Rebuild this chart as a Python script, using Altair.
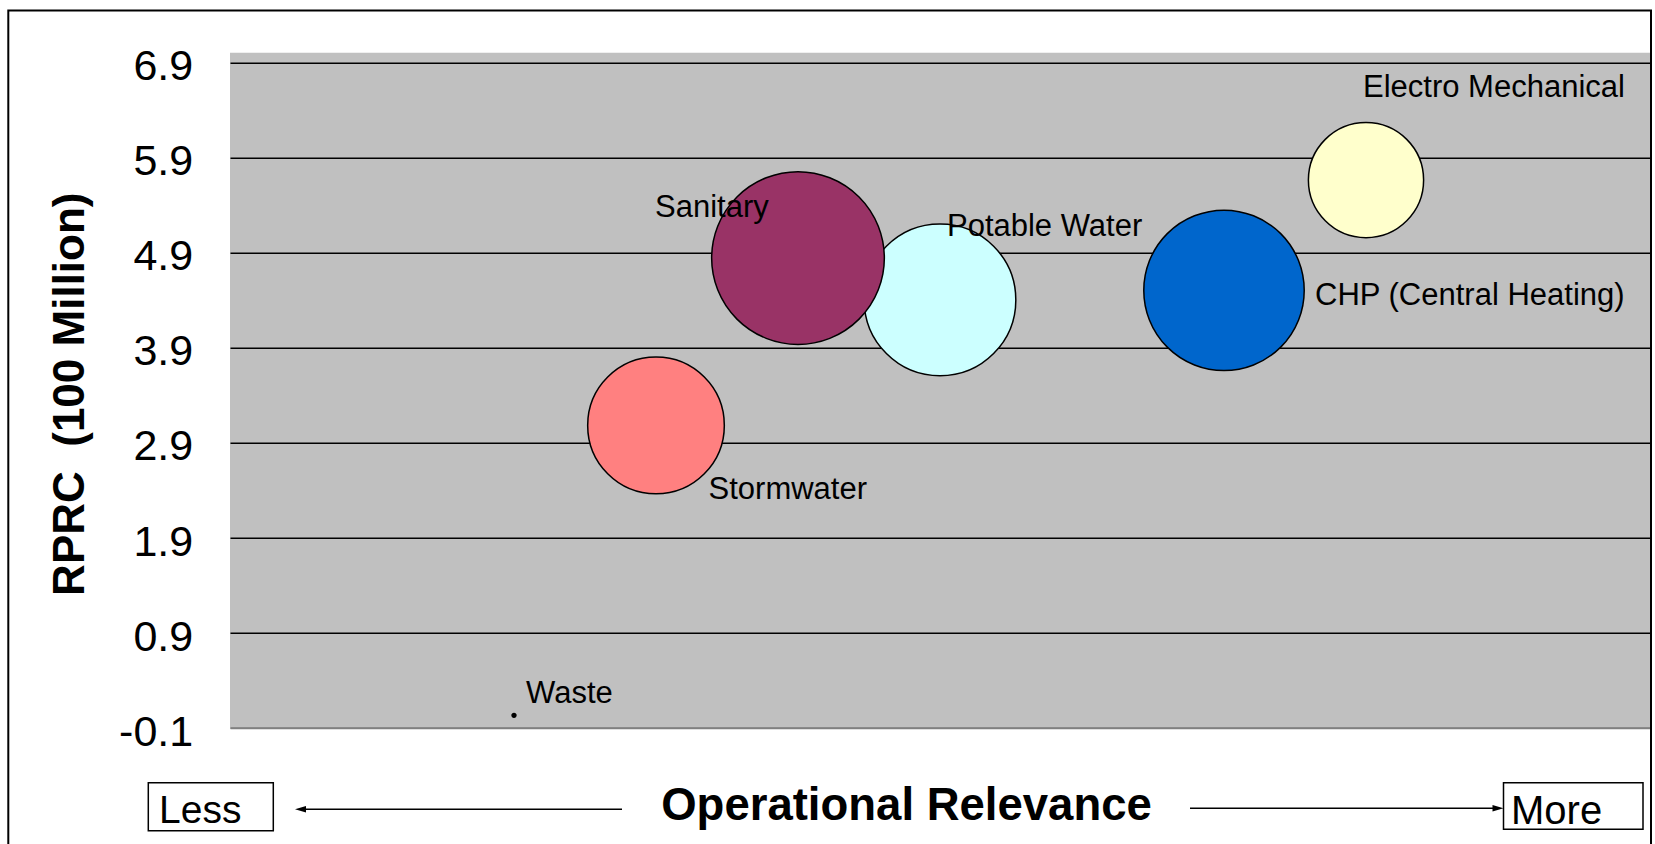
import altair as alt
import pandas as pd

# ---- data ----
categories = ["Waste", "Stormwater", "Potable Water", "Sanitary",
              "CHP (Central Heating)", "Electro Mechanical"]
relevance = [2.0, 3.0, 5.0, 4.0, 7.0, 8.0]          # operational relevance (unitless position)
rprc = [0.03, 3.08, 4.40, 4.84, 4.50, 5.66]           # RPRC (100 Million)
bubble_size = [0.05, 62.6, 77.1, 100.0, 86.3, 44.5]   # relative bubble size
bubble_colors = ["#000000", "#FF8080", "#CCFFFF", "#993366", "#0066CC", "#FFFFCC"]
label_x = [2.085, 3.37, 5.049, 2.993, 7.641, 7.979]
label_y = [0.157, 2.306, 5.072, 5.275, 4.346, 6.537]
y_ticks = [-0.1, 0.9, 1.9, 2.9, 3.9, 4.9, 5.9, 6.9]

df = pd.DataFrame({
    "category": categories,
    "relevance": relevance,
    "rprc": rprc,
    "size": bubble_size,
    "lx": label_x,
    "ly": label_y,
})

W, H = 1420, 675
FONT = "Liberation Sans"

xscale = alt.Scale(domain=[0, 10], nice=False, zero=False)
yscale = alt.Scale(domain=[-0.1, 7.0], nice=False, zero=False)

base = alt.Chart(df)

bubbles = base.mark_circle(opacity=1, stroke="black", strokeWidth=1.5).encode(
    x=alt.X("relevance:Q", scale=xscale,
            axis=alt.Axis(labels=False, ticks=False, grid=False,
                          domainColor="#808080", domainWidth=2,
                          title="Operational Relevance", titleFontSize=45.5,
                          titleFontWeight="bold", titleFont=FONT, titleColor="black",
                          titleX=676, titleY=92, titleAlign="center",
                          titleBaseline="alphabetic")),
    y=alt.Y("rprc:Q", scale=yscale,
            axis=alt.Axis(values=y_ticks,
                          labelExpr="datum.value < 0 ? '-' + format(-datum.value, '.1f') : format(datum.value, '.1f')",
                          labelFontSize=43, labelFont=FONT, labelColor="black",
                          labelPadding=37.3, labelBaseline="alphabetic", labelOffset=17.5,
                          labelAlign="right",
                          ticks=False, tickSize=0, domain=False,
                          grid=True,
                          gridColor=alt.condition("datum.value < 0", alt.value("#808080"), alt.value("black")),
                          gridWidth=1.5, gridOpacity=1,
                          title="RPRC \u00a0(100 Million)", titleFontSize=44,
                          titleFontWeight="bold", titleFont=FONT, titleColor="black",
                          titleAngle=270, titleX=-147, titleY=341,
                          titleAlign="center", titleBaseline="alphabetic")),
    size=alt.Size("size:Q", scale=alt.Scale(domain=[0, 100], range=[0, 29825]), legend=None),
    color=alt.Color("category:N", scale=alt.Scale(domain=categories, range=bubble_colors), legend=None),
)

labels = base.mark_text(align="left", baseline="alphabetic", fontSize=31,
                        font=FONT, color="black").encode(
    x=alt.X("lx:Q", scale=xscale),
    y=alt.Y("ly:Q", scale=yscale),
    text="category:N",
)

ann = alt.Chart(pd.DataFrame({"a": [0]}))

frame = ann.mark_rect(fill="transparent", stroke="black", strokeWidth=2).encode(
    x=alt.value(-221.7), x2=alt.value(1421), y=alt.value(-42.2), y2=alt.value(800))

less_box = ann.mark_rect(fill="white", stroke="black", strokeWidth=1.5).encode(
    x=alt.value(-81.7), x2=alt.value(43.3), y=alt.value(730), y2=alt.value(778))
more_box = ann.mark_rect(fill="white", stroke="black", strokeWidth=1.5).encode(
    x=alt.value(1273.5), x2=alt.value(1413), y=alt.value(730), y2=alt.value(776.5))

less_txt = ann.mark_text(align="left", baseline="alphabetic", fontSize=39, font=FONT,
                         color="black").encode(
    x=alt.value(-71), y=alt.value(770.6), text=alt.value("Less"))
more_txt = ann.mark_text(align="left", baseline="alphabetic", fontSize=40, font=FONT,
                         color="black").encode(
    x=alt.value(1281), y=alt.value(771), text=alt.value("More"))

left_line = ann.mark_rule(stroke="black", strokeWidth=1.5).encode(
    x=alt.value(70), x2=alt.value(392), y=alt.value(756.6))
right_line = ann.mark_rule(stroke="black", strokeWidth=1.5).encode(
    x=alt.value(960), x2=alt.value(1268), y=alt.value(755.6))

left_head = ann.mark_point(shape="M-1,0L1,-0.6L1,0.6Z", filled=True, fill="black",
                           opacity=1, strokeWidth=0).encode(
    x=alt.value(70.5), y=alt.value(756.6), size=alt.value(121))
right_head = ann.mark_point(shape="M1,0L-1,-0.6L-1,0.6Z", filled=True, fill="black",
                            opacity=1, strokeWidth=0).encode(
    x=alt.value(1268), y=alt.value(755.6), size=alt.value(121))

chart = alt.layer(
    bubbles, labels, frame, less_box, more_box, less_txt, more_txt,
    left_line, right_line, left_head, right_head
).properties(
    width=W, height=H,
    autosize=alt.AutoSizeParams(type="none"),
    padding={"left": 230, "top": 52.7, "right": 5, "bottom": 116.3},
    background="white",
).configure_view(fill="#C0C0C0", strokeWidth=0)

chart.save("out.html", embed_options={"renderer": "svg", "actions": False})
